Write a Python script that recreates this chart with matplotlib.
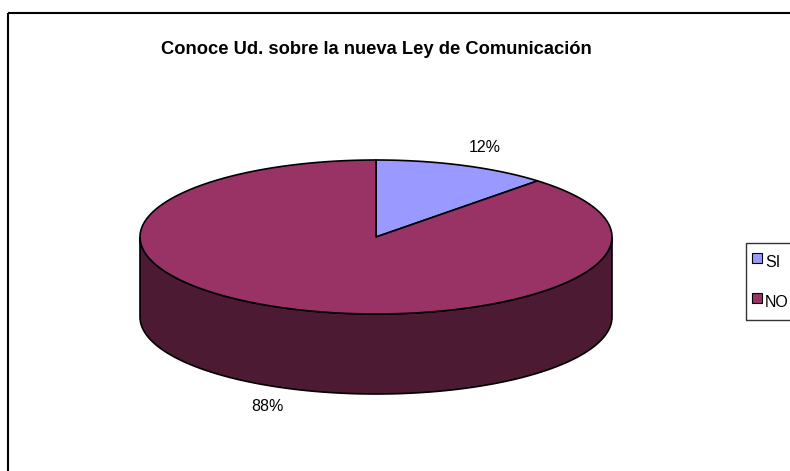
import numpy as np
import matplotlib.pyplot as plt
from matplotlib.lines import Line2D
from matplotlib.patches import Polygon, Rectangle

labels = ["SI", "NO"]
values = [12, 88]
top_colors = ["#9999FF", "#993366"]
side_colors = ["#4C4C80", "#4D1A33"]
title = "Conoce Ud. sobre la nueva Ley de Comunicación"

plt.rcParams["font.family"] = ["Liberation Sans", "DejaVu Sans"]

fig = plt.figure(figsize=(7.9, 4.71), dpi=100)
ax = fig.add_axes([0, 0, 1, 1])
ax.set_xlim(0, 790)
ax.set_ylim(471, 0)
ax.axis("off")

# pixel layout of the 3d pie
cx, cy, rx, ry, depth = 376, 237, 236, 77, 80


def ell(t):
    return cx + rx * np.cos(np.radians(t)), cy - ry * np.sin(np.radians(t))


# outer chart frame
ax.add_patch(Rectangle((7.5, 12.5), 900, 900, fill=False, ec="black", lw=1.5))

fracs = np.array(values) / sum(values)
starts = 90 - 360 * np.concatenate([[0], np.cumsum(fracs)[:-1]])
ends = starts - 360 * fracs

# side walls (front half only, 180..360)
for i in range(len(values)):
    a, b = ends[i], starts[i]
    lo, hi = max(a, -180), min(b, 0)
    if lo < hi:
        t = np.linspace(lo, hi, 200)
        x, y = ell(t)
        pts = np.column_stack([np.r_[x, x[::-1]], np.r_[y, y[::-1] + depth]])
        ax.add_patch(Polygon(pts, closed=True, fc=side_colors[i], ec="black", lw=1.2))

# top faces
for i in range(len(values)):
    t = np.linspace(ends[i], starts[i], 300)
    x, y = ell(t)
    pts = np.column_stack([np.r_[cx, x], np.r_[cy, y]])
    ax.add_patch(Polygon(pts, closed=True, fc=top_colors[i], ec="black", lw=1.2, joinstyle="round"))

# percentage labels
for i in range(len(values)):
    mid = (starts[i] + ends[i]) / 2
    lx = cx + 1.25 * rx * np.cos(np.radians(mid))
    ly = cy - 1.25 * ry * np.sin(np.radians(mid))
    if np.sin(np.radians(mid)) < 0:
        ly += depth
    ax.text(lx, ly, f"{values[i]}%", ha="center", va="center", fontsize=11.5)

ax.text(376, 50, title, ha="center", va="center", fontsize=13.2, fontweight="bold")

handles = [Line2D([], [], ls="", marker="s", markersize=6.5, mfc=c, mec="black", mew=0.8)
           for c in top_colors]
leg = ax.legend(handles, labels, loc="upper left", bbox_to_anchor=(746, 243),
                bbox_transform=ax.transData, frameon=True, fancybox=False,
                fontsize=11.5, handlelength=0.55, handleheight=2.0, handletextpad=0.25,
                labelspacing=0.95, borderpad=0.4, borderaxespad=0)
leg.get_frame().set_edgecolor("black")
leg.get_frame().set_linewidth(1.0)

fig.savefig("out.png", dpi=100)
